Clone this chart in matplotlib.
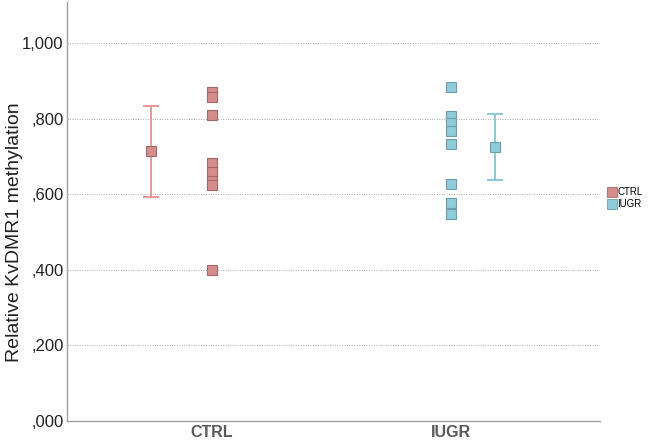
import matplotlib
matplotlib.use("Agg")
import matplotlib.pyplot as plt
from matplotlib.lines import Line2D

plt.rcParams['font.family'] = ['Liberation Sans', 'DejaVu Sans']

categories = ["CTRL", "IUGR"]
ctrl_values = [0.870, 0.857, 0.809, 0.683, 0.660, 0.634, 0.625, 0.399]
iugr_values = [0.884, 0.806, 0.789, 0.768, 0.733, 0.626, 0.576, 0.549]
means = [0.714, 0.724]
ci_low = [0.593, 0.638]
ci_high = [0.834, 0.811]
yticks = [0.0, 0.2, 0.4, 0.6, 0.8, 1.0]
ytick_labels = [",000", ",200", ",400", ",600", ",800", "1,000"]

fill_colors = ["#d58c8c", "#8ecbdb"]
edge_colors = ["#a46868", "#6c9eaa"]
bar_colors = ["#e88f8f", "#7cc6dc"]
mean_offsets = [-0.255, 0.184]

fig = plt.figure(figsize=(6.5, 4.4), dpi=100)
ax = fig.add_axes([0.103, 0.043, 0.82, 0.952])

for i, vals in enumerate([ctrl_values, iugr_values]):
    ax.plot([i] * len(vals), vals, linestyle="none", marker="s", markersize=7.5,
            markerfacecolor=fill_colors[i], markeredgecolor=edge_colors[i],
            markeredgewidth=0.8, zorder=3)
    xm = i + mean_offsets[i]
    ax.errorbar([xm], [means[i]],
                yerr=[[means[i] - ci_low[i]], [ci_high[i] - means[i]]],
                fmt="none", ecolor=bar_colors[i], elinewidth=1.3, capsize=6,
                capthick=1.3, zorder=2)
    ax.plot([xm], [means[i]], linestyle="none", marker="s", markersize=7.5,
            markerfacecolor=fill_colors[i], markeredgecolor=edge_colors[i],
            markeredgewidth=0.8, zorder=4)

ymax = 1.108
ax.set_xlim(-0.607, 1.623)
ax.set_ylim(0, ymax)
ax.set_yticks(yticks)
ax.set_yticklabels(ytick_labels, fontsize=12, color="#222222")
ax.set_xticks([0, 1])
ax.set_xticklabels(categories, fontsize=11.5, fontweight="bold", color="#595959")
ax.tick_params(axis="x", length=0, pad=3)
ax.tick_params(axis="y", length=0, pad=2.5)
ax.set_ylabel("Relative KvDMR1 methylation", fontsize=14, color="#222222")
ax.yaxis.set_label_coords(-0.082, 0.5 / ymax)

ax.yaxis.grid(True, linestyle=(0, (1, 1.5)), color="#aaaaaa", linewidth=0.7)
ax.set_axisbelow(True)
for s in ["top", "right"]:
    ax.spines[s].set_visible(False)
for s in ["left", "bottom"]:
    ax.spines[s].set_color("#a0a0a0")
    ax.spines[s].set_linewidth(1.0)

handles = [Line2D([], [], linestyle="none", marker="s", markersize=7,
                  markerfacecolor=fill_colors[i], markeredgecolor=edge_colors[i],
                  markeredgewidth=0.6) for i in range(2)]
fig.legend(handles, categories, loc="center left", bbox_to_anchor=(0.935, 0.549),
           frameon=False, fontsize=7, handlelength=0.8, handletextpad=0.2,
           labelspacing=0.2, borderaxespad=0, borderpad=0)

fig.savefig("out.png", dpi=100)
